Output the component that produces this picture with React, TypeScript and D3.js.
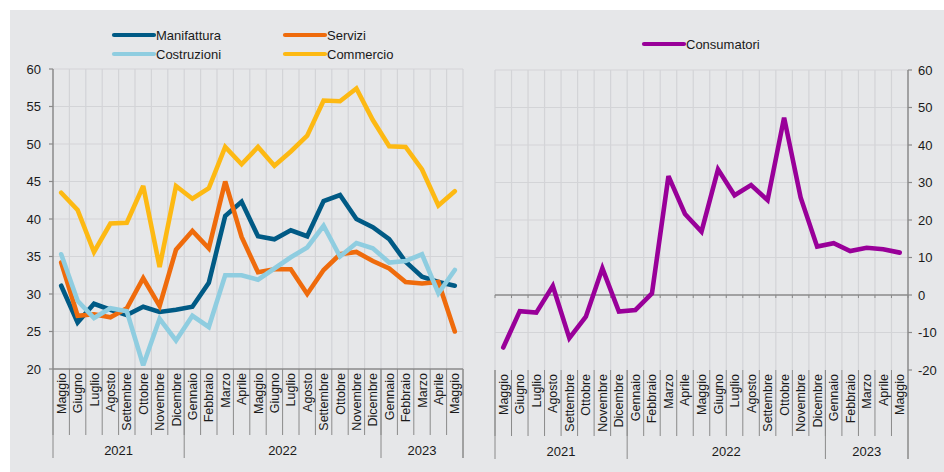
import React from "react";
import * as d3 from "d3";

const months = [
  "Maggio", "Giugno", "Luglio", "Agosto", "Settembre", "Ottobre", "Novembre", "Dicembre",
  "Gennaio", "Febbraio", "Marzo", "Aprile", "Maggio", "Giugno", "Luglio", "Agosto",
  "Settembre", "Ottobre", "Novembre", "Dicembre",
  "Gennaio", "Febbraio", "Marzo", "Aprile", "Maggio",
];
const years = ["2021", "2022", "2023"];
const yearStarts = [0, 8, 20];

const manifattura = [31.1, 26.2, 28.7, 27.9, 27.2, 28.3, 27.6, 27.9, 28.3, 31.5, 40.4, 42.3, 37.7, 37.3, 38.5, 37.7, 42.4, 43.2, 40.0, 38.9, 37.3, 34.3, 32.3, 31.6, 31.1];
const servizi = [34.2, 27.1, 27.3, 26.9, 28.1, 32.1, 28.4, 35.9, 38.4, 36.1, 45.0, 37.6, 32.9, 33.3, 33.3, 30.0, 33.2, 35.3, 35.6, 34.4, 33.4, 31.6, 31.4, 31.6, 25.0];
const costruzioni = [35.3, 29.1, 26.8, 28.1, 27.7, 20.5, 26.7, 23.8, 27.1, 25.6, 32.5, 32.5, 31.9, 33.4, 34.9, 36.2, 39.1, 35.0, 36.8, 36.1, 34.2, 34.4, 35.3, 30.1, 33.2];
const commercio = [43.5, 41.2, 35.6, 39.4, 39.5, 44.4, 33.6, 44.4, 42.7, 44.1, 49.6, 47.3, 49.6, 47.1, 49.0, 51.1, 55.8, 55.7, 57.4, 53.2, 49.7, 49.6, 46.6, 41.8, 43.7];
const consumatori = [-14.0, -4.3, -4.7, 2.4, -11.5, -5.8, 7.1, -4.4, -4.0, 0.4, 31.7, 21.6, 16.9, 33.5, 26.6, 29.3, 25.3, 47.3, 26.0, 12.9, 13.8, 11.7, 12.6, 12.2, 11.3];

const leftTicks = [20, 25, 30, 35, 40, 45, 50, 55, 60];
const rightTicks = [-20, -10, 0, 10, 20, 30, 40, 50, 60];

const leftSeries = [
  { name: "Manifattura", values: manifattura, color: "#005a85" },
  { name: "Servizi", values: servizi, color: "#ef6b0c" },
  { name: "Costruzioni", values: costruzioni, color: "#8fcde0" },
  { name: "Commercio", values: commercio, color: "#fdb913" },
];
const consColor = "#990099";

const FONT = "'Liberation Sans', Arial, sans-serif";
const GRID = "#d3d4d7";
const AXIS = "#8a8a8a";
const TEXT = "#1a1a1a";

function CategoryAxis({ x, y0 }: { x: d3.ScaleBand<string>; y0: number }) {
  const idx = months.map((_, i) => String(i));
  const bw = x.bandwidth();
  const first = x(idx[0])!;
  const last = x(idx[idx.length - 1])! + bw;
  const yearBounds = [...yearStarts.map((s) => x(String(s))!), last];
  return (
    <g>
      {idx.map((k, i) => (
        <line key={"s" + i} x1={x(k)!} x2={x(k)!} y1={y0} y2={y0 + 66} stroke={AXIS} strokeWidth={1} />
      ))}
      <line x1={last} x2={last} y1={y0} y2={y0 + 89} stroke={AXIS} strokeWidth={1} />
      {yearBounds.map((b, i) => (
        <line key={"y" + i} x1={b} x2={b} y1={y0} y2={y0 + 89} stroke={AXIS} strokeWidth={1} />
      ))}
      {idx.map((k, i) => {
        const cx = x(k)! + bw / 2;
        return (
          <text key={"m" + i} transform={`translate(${cx},${y0 + 4}) rotate(-90)`} textAnchor="end" dy="0.36em" fontSize={12.5} fill={TEXT} fontFamily={FONT}>
            {months[i]}
          </text>
        );
      })}
      {years.map((yr, i) => (
        <text key={"yl" + i} x={(yearBounds[i] + yearBounds[i + 1]) / 2} y={y0 + 86} textAnchor="middle" fontSize={13} fill={TEXT} fontFamily={FONT}>
          {yr}
        </text>
      ))}
      {first === undefined ? null : null}
    </g>
  );
}

export default function App() {
  const idx = months.map((_, i) => String(i));
  const xL = d3.scaleBand<string>().domain(idx).range([53, 463]);
  const yL = d3.scaleLinear().domain([20, 60]).range([369, 69]);
  const xR = d3.scaleBand<string>().domain(idx).range([495, 908]);
  const yR = d3.scaleLinear().domain([-20, 60]).range([370, 70]);

  const lineL = (vals: number[]) =>
    d3.line<number>().x((_, i) => xL(String(i))! + xL.bandwidth() / 2).y((v) => yL(v))(vals)!;
  const lineR = d3.line<number>().x((_, i) => xR(String(i))! + xR.bandwidth() / 2).y((v) => yR(v))(consumatori)!;

  const bl = idx.map((k) => xL(k)!).concat([463]);
  const br = idx.map((k) => xR(k)!).concat([908]);

  return (
    <svg width={944} height={472} style={{ position: "absolute", left: 0, top: 0 }} fontFamily={FONT}>
      <rect x={0} y={0} width={944} height={472} fill="#ffffff" />
      <rect x={10} y={10} width={934} height={462} fill="#e6e7e9" />

      {/* Left grid */}
      {leftTicks.slice(1).map((t) => (
        <line key={"lg" + t} x1={53} x2={463} y1={yL(t)} y2={yL(t)} stroke={GRID} strokeWidth={1.2} />
      ))}
      {bl.slice(1).map((b, i) => (
        <line key={"lv" + i} x1={b} x2={b} y1={69} y2={369} stroke={GRID} strokeWidth={1.2} />
      ))}

      {/* Right grid */}
      {rightTicks.filter((t) => t !== 0 && t !== -20).map((t) => (
        <line key={"rg" + t} x1={495} x2={908} y1={yR(t)} y2={yR(t)} stroke={GRID} strokeWidth={1.2} />
      ))}
      {br.slice(0, -1).map((b, i) => (
        <line key={"rv" + i} x1={b} x2={b} y1={70} y2={370} stroke={GRID} strokeWidth={1.2} />
      ))}

      {/* Left axes */}
      <line x1={53} x2={53} y1={69} y2={369} stroke={AXIS} strokeWidth={1.5} />
      <line x1={53} x2={463} y1={369} y2={369} stroke={AXIS} strokeWidth={1.5} />
      {leftTicks.map((t) => (
        <g key={"lt" + t}>
          <line x1={49} x2={53} y1={yL(t)} y2={yL(t)} stroke={AXIS} strokeWidth={1.2} />
          <text x={41} y={yL(t)} dy="0.36em" textAnchor="end" fontSize={13} fill={TEXT}>
            {t}
          </text>
        </g>
      ))}
      <CategoryAxis x={xL} y0={369} />

      {/* Right axes */}
      <line x1={908} x2={908} y1={70} y2={370} stroke={AXIS} strokeWidth={1.5} />
      <line x1={495} x2={908} y1={yR(0)} y2={yR(0)} stroke={AXIS} strokeWidth={1.5} />
      {br.map((b, i) => (
        <line key={"zt" + i} x1={b} x2={b} y1={yR(0)} y2={yR(0) + 3} stroke={AXIS} strokeWidth={1} />
      ))}
      {rightTicks.map((t) => (
        <g key={"rt" + t}>
          <line x1={908} x2={912} y1={yR(t)} y2={yR(t)} stroke={AXIS} strokeWidth={1.2} />
          <text x={918} y={yR(t)} dy="0.36em" textAnchor="start" fontSize={13} fill={TEXT}>
            {t}
          </text>
        </g>
      ))}
      <CategoryAxis x={xR} y0={370} />

      {/* Lines */}
      {leftSeries.map((s) => (
        <path key={s.name} d={lineL(s.values)} fill="none" stroke={s.color} strokeWidth={4.6} strokeLinejoin="miter" strokeMiterlimit={3} strokeLinecap="round" />
      ))}
      <path d={lineR} fill="none" stroke={consColor} strokeWidth={4.6} strokeLinejoin="miter" strokeMiterlimit={3} strokeLinecap="round" />

      {/* Legends */}
      {leftSeries.map((s, i) => {
        const lx = i % 2 === 0 ? 114 : 285;
        const ly = i < 2 ? 35 : 54;
        return (
          <g key={"lg" + s.name}>
            <line x1={lx} x2={lx + 40} y1={ly} y2={ly} stroke={s.color} strokeWidth={4.2} strokeLinecap="round" />
            <text x={lx + 42} y={ly} dy="0.36em" fontSize={13} fill={TEXT}>
              {s.name}
            </text>
          </g>
        );
      })}
      <line x1={644} x2={684} y1={44} y2={44} stroke={consColor} strokeWidth={4.2} strokeLinecap="round" />
      <text x={686} y={44} dy="0.36em" fontSize={13} fill={TEXT}>
        Consumatori
      </text>
    </svg>
  );
}
